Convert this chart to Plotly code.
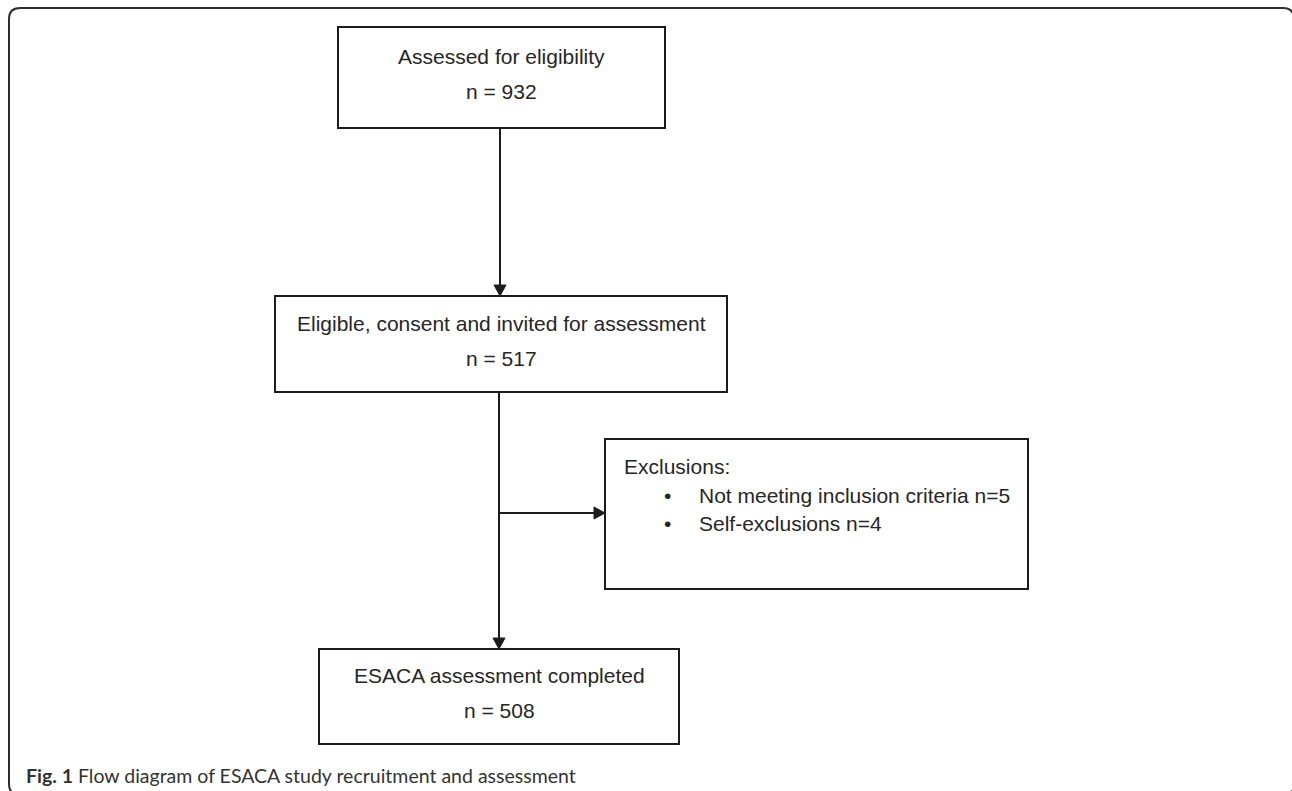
import plotly.graph_objects as go

# ---- data ----
stages = ["Assessed for eligibility",
          "Eligible, consent and invited for assessment",
          "ESACA assessment completed"]
stage_counts = [932, 517, 508]
exclusion_title = "Exclusions:"
exclusion_reasons = ["Not meeting inclusion criteria", "Self-exclusions"]
exclusion_counts = [5, 4]
caption_label = "Fig. 1"
caption_text = "Flow diagram of ESACA study recruitment and assessment"

# ---- layout geometry (pixel canvas) ----
W, H = 1292, 791
LINE = "#1c1c1c"
TXT = "#262626"
FONT = "Liberation Sans, Arial, sans-serif"
FS = 21
boxes = [  # x0, y0, x1, y1
    (338, 27, 665, 128),
    (275, 296, 727, 392),
    (319, 649, 679, 744),
]
excl_box = (605, 439, 1028, 589)
cx = 500

shapes = []
annotations = []

# outer rounded frame (right and bottom edges run just past the visible area)
r = 11
x0, y0, x1, y1 = 9, 8, 1294, 795
shapes.append(dict(type="path", xref="x", yref="y",
                   path=(f"M {x0},{y0+r} Q {x0},{y0} {x0+r},{y0} L {x1-r},{y0} "
                         f"Q {x1},{y0} {x1},{y0+r} L {x1},{y1-r} Q {x1},{y1} {x1-r},{y1} "
                         f"L {x0+r},{y1} Q {x0},{y1} {x0},{y1-r} Z"),
                   line=dict(color="#2e2e2e", width=2)))

for (bx0, by0, bx1, by1), name, n in zip(boxes, stages, stage_counts):
    shapes.append(dict(type="rect", xref="x", yref="y", x0=bx0, y0=by0, x1=bx1, y1=by1,
                       line=dict(color=LINE, width=2), fillcolor="white"))
    mid = (by0 + by1) / 2
    annotations.append(dict(x=(bx0 + bx1) / 2, y=mid - 21, text=name, showarrow=False,
                            xref="x", yref="y", font=dict(family=FONT, size=FS, color=TXT)))
    annotations.append(dict(x=(bx0 + bx1) / 2, y=mid + 14, text=f"n = {n}", showarrow=False,
                            xref="x", yref="y", font=dict(family=FONT, size=FS, color=TXT)))

ex0, ey0, ex1, ey1 = excl_box
shapes.append(dict(type="rect", xref="x", yref="y", x0=ex0, y0=ey0, x1=ex1, y1=ey1,
                   line=dict(color=LINE, width=2), fillcolor="white"))
annotations.append(dict(x=622, y=466, text=exclusion_title, showarrow=False, xanchor="left",
                        xref="x", yref="y", font=dict(family=FONT, size=FS, color=TXT)))
for i, (reason, n) in enumerate(zip(exclusion_reasons, exclusion_counts)):
    yy = 495 + i * 28
    annotations.append(dict(x=667, y=yy, text="•", showarrow=False,
                            xref="x", yref="y", font=dict(family=FONT, size=FS, color=TXT)))
    annotations.append(dict(x=697, y=yy, text=f"{reason} n={n}", showarrow=False, xanchor="left",
                            xref="x", yref="y", font=dict(family=FONT, size=FS, color=TXT)))

def vline(xv, ya, yb):
    shapes.append(dict(type="line", xref="x", yref="y", x0=xv, x1=xv, y0=ya, y1=yb,
                       line=dict(color=LINE, width=2)))

def hline(yv, xa, xb):
    shapes.append(dict(type="line", xref="x", yref="y", x0=xa, x1=xb, y0=yv, y1=yv,
                       line=dict(color=LINE, width=2)))

def head_down(xv, ytip):
    shapes.append(dict(type="path", xref="x", yref="y",
                       path=f"M {xv-6},{ytip-11} L {xv+6},{ytip-11} L {xv},{ytip} Z",
                       fillcolor=LINE, line=dict(color=LINE, width=1)))

def head_right(xtip, yv):
    shapes.append(dict(type="path", xref="x", yref="y",
                       path=f"M {xtip-11},{yv-6} L {xtip-11},{yv+6} L {xtip},{yv} Z",
                       fillcolor=LINE, line=dict(color=LINE, width=1)))

vline(cx, boxes[0][3], boxes[1][1] - 8)
head_down(cx, boxes[1][1])
vline(cx - 1, boxes[1][3], boxes[2][1] - 8)
head_down(cx - 1, boxes[2][1])
hline(513, cx - 1, ex0 - 8)
head_right(ex0, 513)

annotations.append(dict(x=24, y=775, xanchor="left", showarrow=False, xref="x", yref="y",
                        text=f"<b>{caption_label}</b> {caption_text}",
                        font=dict(family="Lato, sans-serif", size=19.5, color="#333333")))

fig = go.Figure()
fig.update_layout(
    width=W, height=H, autosize=False,
    margin=dict(l=0, r=0, t=0, b=0),
    paper_bgcolor="white", plot_bgcolor="white",
    xaxis=dict(range=[0, W], visible=False, fixedrange=True),
    yaxis=dict(range=[H, 0], visible=False, fixedrange=True),
    shapes=shapes, annotations=annotations, showlegend=False,
)
fig.write_html("out.html", config={"displayModeBar": False},
               post_script="document.body.style.margin='0';document.body.style.overflow='hidden';")
